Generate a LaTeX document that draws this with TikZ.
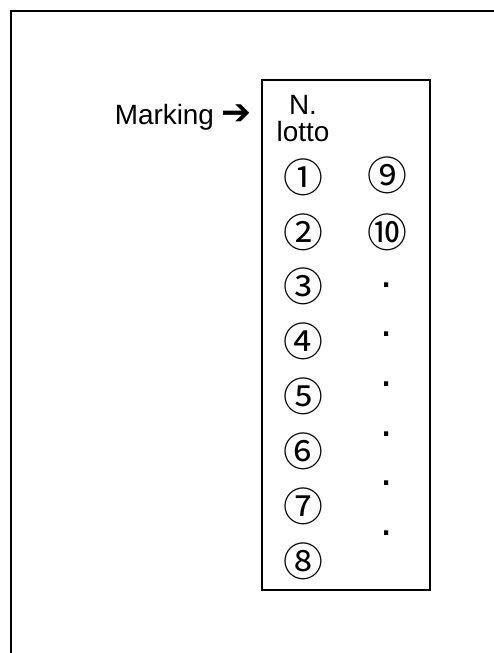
\documentclass[tikz,border=0pt]{standalone}
\usepackage{fontspec}
\setmainfont{Liberation Sans}
\newfontfamily\symfont{DejaVu Sans}
\newfontfamily\cjk{Noto Sans CJK JP}
\begin{document}
\begin{tikzpicture}[x=1bp,y=1bp,
    lbl/.style={inner sep=0pt,font=\fontsize{28}{27}\selectfont},
    num/.style={inner sep=0pt,font=\cjk\fontsize{40}{40}\selectfont},
    pt/.style={inner sep=0pt,font=\fontsize{44}{44}\selectfont}]
  \useasboundingbox (0,0) rectangle (494,653);
  \draw[line width=1.5bp] (11,0) -- (11,642) -- (494,642);
  \draw[line width=1.5bp] (262,573) rectangle (430,63);
  \node[lbl,anchor=base east] (marking) at (252,528) {Marking {\symfont\fontsize{36}{36}\selectfont ➔}};
  \node[lbl,anchor=base] (nr) at (303,538) {N.};
  \node[lbl,anchor=base] (lotto) at (303,511) {lotto};
  \foreach \s [count=\i] in {①,②,③,④,⑤,⑥,⑦,⑧}
    \node[num] (c\i) at (303,{530.9-54.9*\i}) {\s};
  \node[num] (c9) at (387,478) {⑨};
  \node[num] (c10) at (387,421) {⑩};
  \foreach \i in {1,...,6}
    \node[pt] (d\i) at (387,{417.6-49.6*\i}) {.};
\end{tikzpicture}
\end{document}
